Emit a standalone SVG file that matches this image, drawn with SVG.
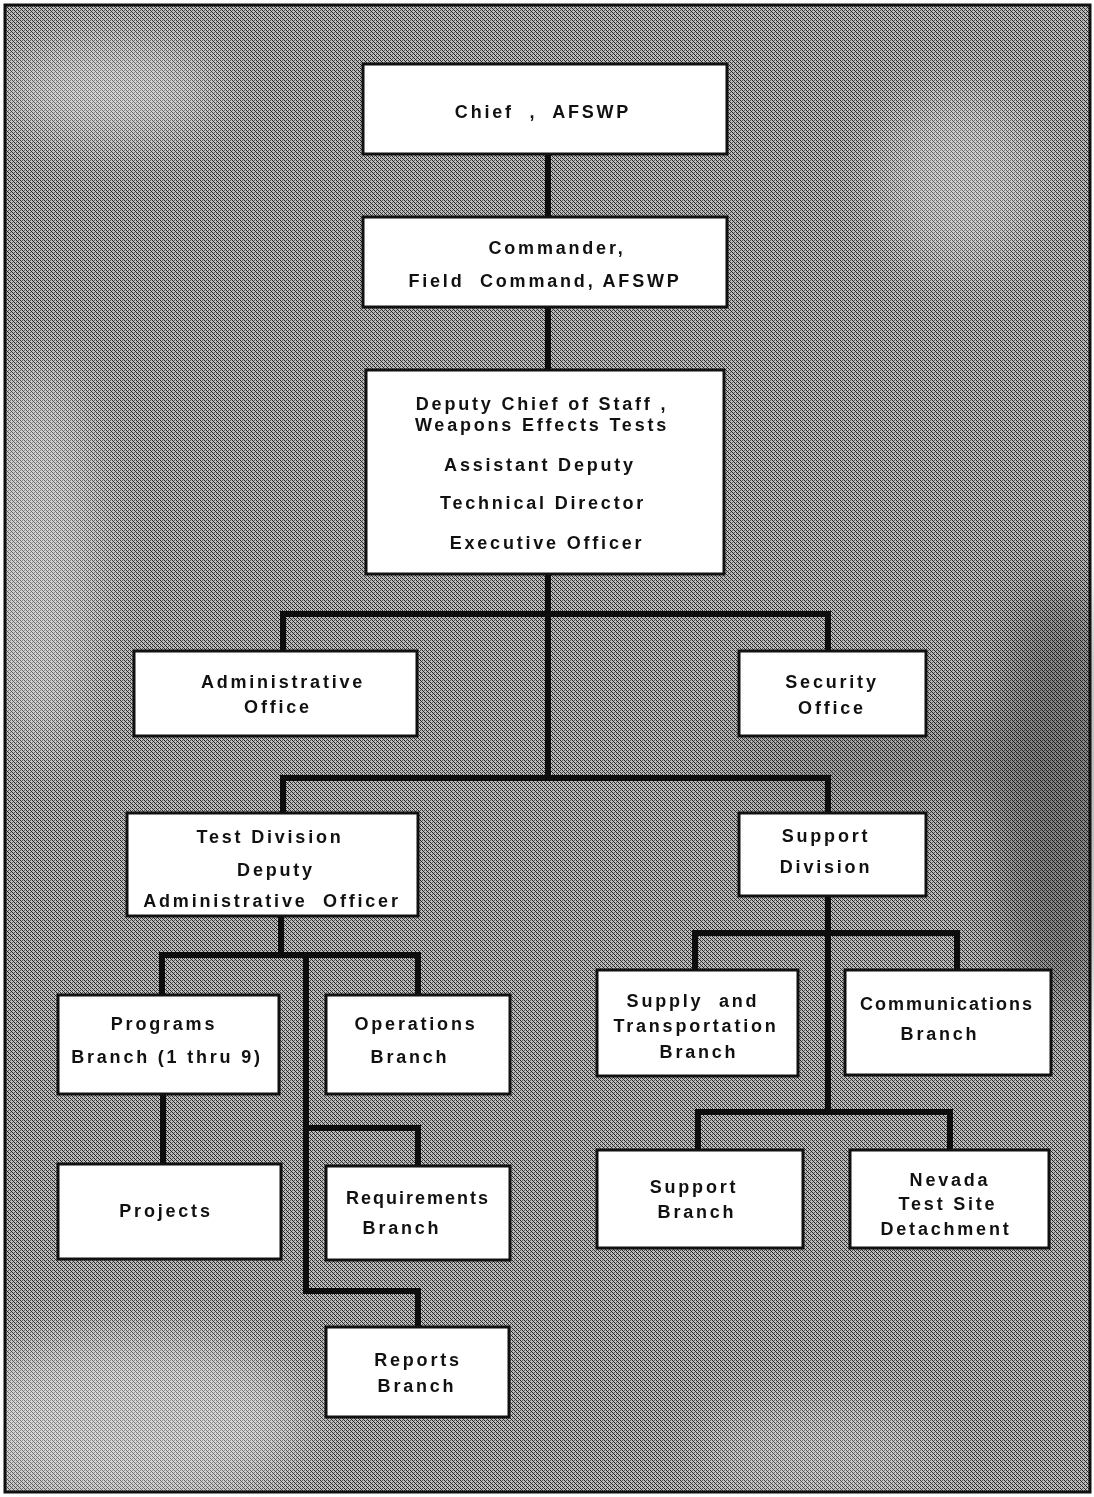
<svg xmlns="http://www.w3.org/2000/svg" width="1094" height="1497" viewBox="0 0 1094 1497">
<style>
.box{fill:#ffffff;stroke:#111111;stroke-width:3}
.t{font-family:"Liberation Sans",Arial,sans-serif;font-weight:bold;font-size:18px;letter-spacing:2.8px;fill:#111111;text-anchor:middle;white-space:pre}
.c{fill:none;stroke:#0d0d0d;stroke-width:6;stroke-linecap:square}
</style>
<defs>
<pattern id="ht" width="4" height="4" patternUnits="userSpaceOnUse">
<rect x="0" y="0" width="4" height="4" fill="#bdbdbd"/>
<rect x="0" y="0" width="1" height="1" fill="#222"/>
<rect x="1" y="1" width="1" height="1" fill="#222"/>
<rect x="2" y="2" width="1" height="1" fill="#222"/>
<rect x="3" y="3" width="1" height="1" fill="#222"/>
<rect x="2" y="0" width="1" height="1" fill="#555"/>
<rect x="0" y="2" width="1" height="1" fill="#555"/>
</pattern>
<filter id="blur" x="-50%" y="-50%" width="200%" height="200%"><feGaussianBlur stdDeviation="30"/></filter>
</defs>
<g id="background">
<rect x="0" y="0" width="1094" height="1497" fill="#ffffff"/>
<rect x="5" y="5" width="1085" height="1487" fill="url(#ht)"/>
<g filter="url(#blur)">
<ellipse cx="110" cy="90" rx="110" ry="50" fill="#ffffff" opacity="0.4"/>
<ellipse cx="40" cy="560" rx="60" ry="200" fill="#ffffff" opacity="0.35"/>
<ellipse cx="130" cy="1420" rx="180" ry="90" fill="#ffffff" opacity="0.4"/>
<ellipse cx="960" cy="180" rx="80" ry="90" fill="#ffffff" opacity="0.3"/>
<ellipse cx="1060" cy="800" rx="60" ry="220" fill="#000000" opacity="0.3"/>
<ellipse cx="880" cy="760" rx="150" ry="50" fill="#000000" opacity="0.15"/>
<ellipse cx="820" cy="1450" rx="120" ry="50" fill="#ffffff" opacity="0.25"/>
</g>
<rect x="5" y="5" width="1085" height="1487" fill="none" stroke="#111" stroke-width="3"/>
</g>
<g id="connectors">
<path class="c" d="M548 154 V217 M548 307 V370 M548 574 V778"/>
<path class="c" d="M283 651 V614 H828 V651"/>
<path class="c" d="M283 813 V778 H828 V813"/>
<path class="c" d="M281 916 V955 M162 995 V955 H418 V995"/>
<path class="c" d="M306 955 V1291 H418 V1327 M306 1128 H418 V1166"/>
<path class="c" d="M163 1095 V1164"/>
<path class="c" d="M828 896 V1112 M695 970 V933 H957 V970"/>
<path class="c" d="M698 1150 V1112 H950 V1150"/>
</g>
<g id="chief"><rect class="box" x="363" y="64" width="364" height="90"/><text class="t" x="543" y="118">Chief  ,  AFSWP</text></g>
<g id="commander"><rect class="box" x="363" y="217" width="364" height="90"/><text class="t" x="557" y="254">Commander,</text><text class="t" x="545" y="287">Field  Command, AFSWP</text></g>
<g id="deputy"><rect class="box" x="366" y="370" width="358" height="204"/><text class="t" x="542" y="410">Deputy Chief of Staff ,</text><text class="t" x="542" y="431">Weapons Effects Tests</text><text class="t" x="540" y="471">Assistant Deputy</text><text class="t" x="543" y="509">Technical Director</text><text class="t" x="547" y="549">Executive Officer</text></g>
<g id="admin-office"><rect class="box" x="134" y="651" width="283" height="85"/><text class="t" x="283" y="688">Administrative</text><text class="t" x="278" y="713">Office</text></g>
<g id="security-office"><rect class="box" x="739" y="651" width="187" height="85"/><text class="t" x="832" y="688">Security</text><text class="t" x="832" y="714">Office</text></g>
<g id="test-division"><rect class="box" x="127" y="813" width="291" height="103"/><text class="t" x="270" y="843">Test Division</text><text class="t" x="276" y="876">Deputy</text><text class="t" x="272" y="907">Administrative  Officer</text></g>
<g id="support-division"><rect class="box" x="739" y="813" width="187" height="83"/><text class="t" x="826" y="842">Support</text><text class="t" x="826" y="873">Division</text></g>
<g id="programs"><rect class="box" x="58" y="995" width="221" height="99"/><text class="t" x="164" y="1030">Programs</text><text class="t" x="167" y="1063">Branch (1 thru 9)</text></g>
<g id="operations"><rect class="box" x="326" y="995" width="184" height="99"/><text class="t" x="416" y="1030">Operations</text><text class="t" x="410" y="1063">Branch</text></g>
<g id="supply"><rect class="box" x="597" y="970" width="201" height="106"/><text class="t" x="693" y="1007">Supply  and</text><text class="t" x="696" y="1032">Transportation</text><text class="t" x="699" y="1058">Branch</text></g>
<g id="communications"><rect class="box" x="845" y="970" width="206" height="105"/><text class="t" x="947" y="1010" style="letter-spacing:2px">Communications</text><text class="t" x="940" y="1040">Branch</text></g>
<g id="projects"><rect class="box" x="58" y="1164" width="223" height="95"/><text class="t" x="166" y="1217">Projects</text></g>
<g id="requirements"><rect class="box" x="326" y="1166" width="184" height="94"/><text class="t" x="418" y="1204" style="letter-spacing:2px">Requirements</text><text class="t" x="402" y="1234">Branch</text></g>
<g id="reports"><rect class="box" x="326" y="1327" width="183" height="90"/><text class="t" x="418" y="1366">Reports</text><text class="t" x="417" y="1392">Branch</text></g>
<g id="support-branch"><rect class="box" x="597" y="1150" width="206" height="98"/><text class="t" x="694" y="1193">Support</text><text class="t" x="697" y="1218">Branch</text></g>
<g id="nevada"><rect class="box" x="850" y="1150" width="199" height="98"/><text class="t" x="950" y="1186">Nevada</text><text class="t" x="948" y="1210">Test Site</text><text class="t" x="946" y="1235">Detachment</text></g>
</svg>
